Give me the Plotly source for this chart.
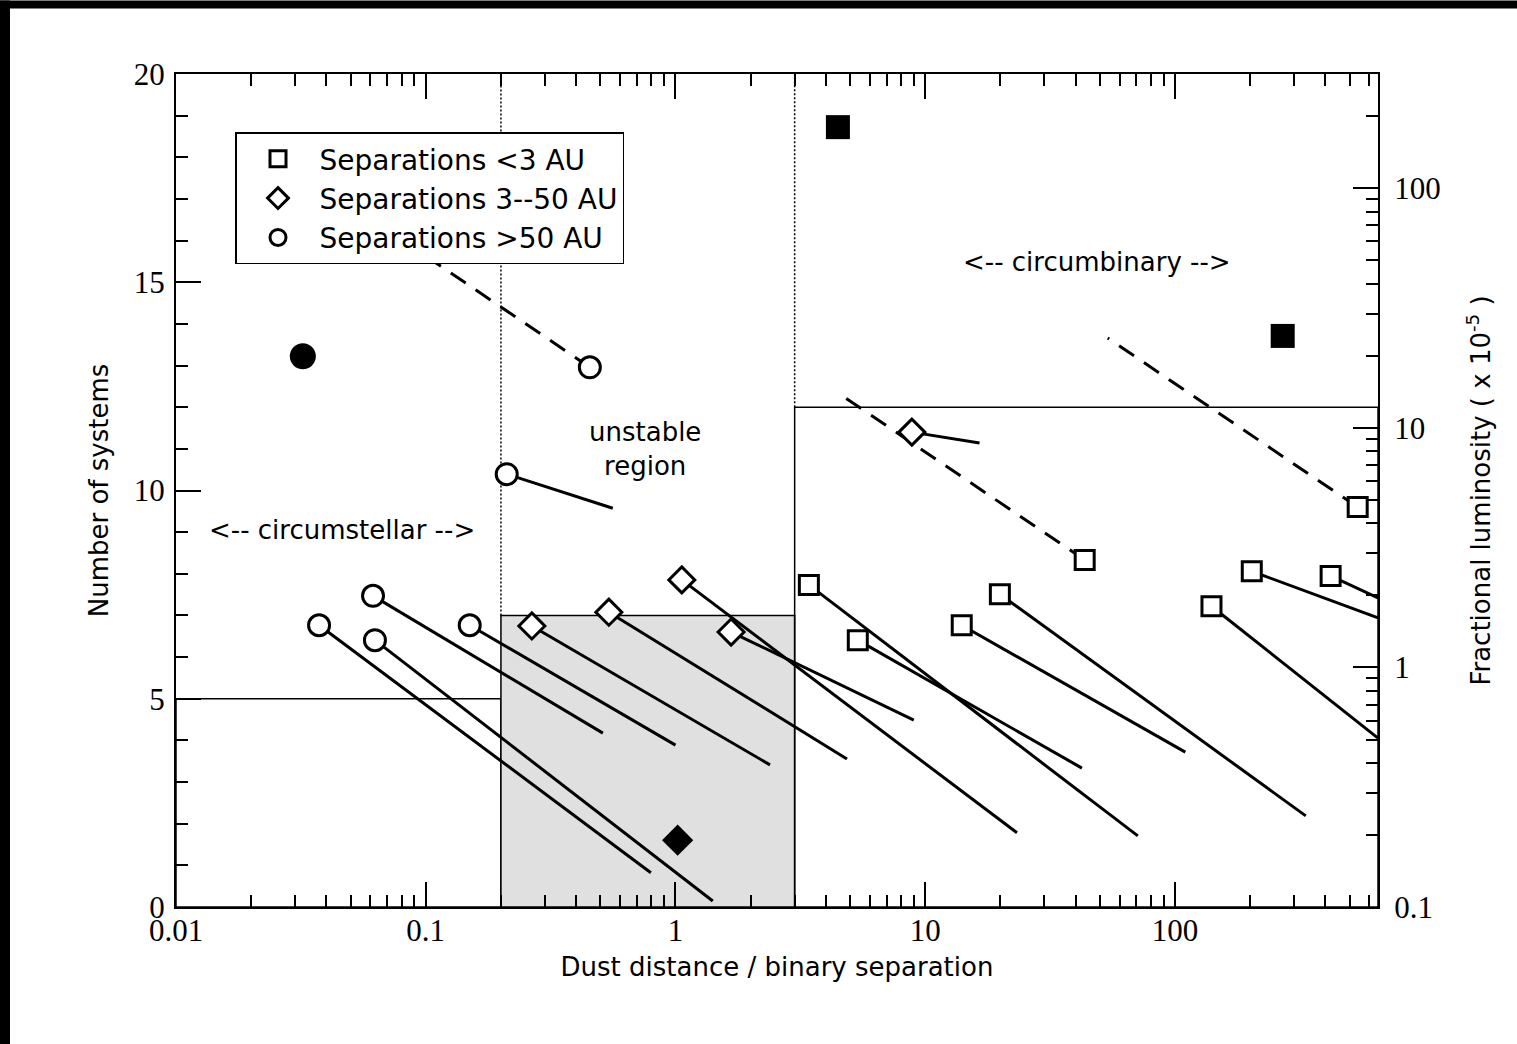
import math
import plotly.graph_objects as go

# ---- histogram: number of systems per dust-distance regime ----
bin_edges = [0.01, 0.2, 3, 650]
bin_counts = [5, 7, 12]
bin_fills = ["rgba(0,0,0,0)", "#e0e0e0", "rgba(0,0,0,0)"]

# ---- Separations < 3 AU (open squares) ----
sq_ratio = [3.42, 5.37, 14.0, 19.9, 140, 203, 420, 43.5, 539]
sq_lum = [2.21, 1.30, 1.50, 2.02, 1.80, 2.52, 2.41, 2.81, 4.67]
sq_tail_ratio = [71.0, 42.4, 110, 334, 650, 650, 650, 4.43, 53.8]
sq_tail_lum = [0.198, 0.380, 0.443, 0.240, 0.507, 1.61, 1.95, 14.1, 23.7]
sq_tail_dashed = [False, False, False, False, False, False, False, True, True]

# ---- Separations 3--50 AU (open diamonds) ----
di_ratio = [0.266, 0.541, 1.06, 1.67, 8.84]
di_lum = [1.49, 1.70, 2.32, 1.405, 9.60]
di_tail_ratio = [2.39, 4.86, 23.3, 9.0, 16.5]
di_tail_lum = [0.392, 0.415, 0.204, 0.603, 8.64]
di_tail_dashed = [False, False, False, False, False]

# ---- Separations > 50 AU (open circles) ----
ci_ratio = [0.0374, 0.0615, 0.0626, 0.150, 0.211, 0.454]
ci_lum = [1.50, 1.99, 1.30, 1.50, 6.41, 17.9]
ci_tail_ratio = [0.797, 0.512, 1.41, 1.00, 0.561, 0.0948]
ci_tail_lum = [0.139, 0.532, 0.106, 0.474, 4.62, 54.2]
ci_tail_dashed = [False, False, False, False, False, True]

# ---- filled symbols ----
fsq_ratio = [4.47, 270]
fsq_lum = [180, 24.2]
fdi_ratio = [1.02]
fdi_lum = [0.190]
fci_ratio = [0.0322]
fci_lum = [19.9]

SANS = "DejaVu Sans"
SERIF = "Liberation Serif"

fig = go.Figure()

# histogram bars drawn as closed outlines on the left (count) axis
for lo, hi, n, fc in zip(bin_edges[:-1], bin_edges[1:], bin_counts, bin_fills):
    fig.add_trace(go.Scatter(
        x=[lo, lo, hi, hi, lo], y=[0, n, n, 0, 0],
        mode="lines", fill="toself", fillcolor=fc,
        line=dict(color="black", width=1.5),
        showlegend=False, hoverinfo="skip", xaxis="x", yaxis="y"))

# dotted region boundaries above the bars
for i, edge in enumerate(bin_edges[1:-1]):
    top = max(bin_counts[i], bin_counts[i + 1])
    fig.add_trace(go.Scatter(
        x=[edge, edge], y=[top, 20], mode="lines",
        line=dict(color="black", width=1.5, dash="2px,2px"),
        showlegend=False, hoverinfo="skip", xaxis="x", yaxis="y"))


def tails(xs, ys, txs, tys, dashed, want):
    px, py = [], []
    for x0, y0, x1, y1, d in zip(xs, ys, txs, tys, dashed):
        if d == want:
            px += [x0, x1, None]
            py += [y0, y1, None]
    return px, py


solid_x, solid_y, dash_x, dash_y = [], [], [], []
for grp in [(sq_ratio, sq_lum, sq_tail_ratio, sq_tail_lum, sq_tail_dashed),
            (di_ratio, di_lum, di_tail_ratio, di_tail_lum, di_tail_dashed),
            (ci_ratio, ci_lum, ci_tail_ratio, ci_tail_lum, ci_tail_dashed)]:
    a, b = tails(*grp, want=False)
    solid_x += a
    solid_y += b
    a, b = tails(*grp, want=True)
    dash_x += a
    dash_y += b

fig.add_trace(go.Scatter(x=solid_x, y=solid_y, mode="lines",
                         line=dict(color="black", width=3),
                         showlegend=False, hoverinfo="skip", xaxis="x", yaxis="y2"))
fig.add_trace(go.Scatter(x=dash_x, y=dash_y, mode="lines",
                         line=dict(color="black", width=3, dash="18px,12px"),
                         showlegend=False, hoverinfo="skip", xaxis="x", yaxis="y2"))

# open symbols (legend entries)
open_marker = dict(color="white", line=dict(color="black", width=3))
fig.add_trace(go.Scatter(x=sq_ratio, y=sq_lum, mode="markers", name="Separations <3 AU",
                         legendgroup="a",
                         marker=dict(symbol="square", size=19, **open_marker),
                         xaxis="x", yaxis="y2"))
fig.add_trace(go.Scatter(x=di_ratio, y=di_lum, mode="markers", name="Separations 3--50 AU",
                         legendgroup="b",
                         marker=dict(symbol="diamond", size=20, **open_marker),
                         xaxis="x", yaxis="y2"))
fig.add_trace(go.Scatter(x=ci_ratio, y=ci_lum, mode="markers", name="Separations >50 AU",
                         legendgroup="c",
                         marker=dict(symbol="circle", size=21, **open_marker),
                         xaxis="x", yaxis="y2"))

# filled symbols
fig.add_trace(go.Scatter(x=fsq_ratio, y=fsq_lum, mode="markers",
                         marker=dict(symbol="square", size=24, color="black"),
                         showlegend=False, xaxis="x", yaxis="y2"))
fig.add_trace(go.Scatter(x=fdi_ratio, y=fdi_lum, mode="markers",
                         marker=dict(symbol="diamond", size=24, color="black"),
                         showlegend=False, xaxis="x", yaxis="y2"))
fig.add_trace(go.Scatter(x=fci_ratio, y=fci_lum, mode="markers",
                         marker=dict(symbol="circle", size=26, color="black"),
                         showlegend=False, xaxis="x", yaxis="y2"))

# region labels
fig.add_annotation(x=math.log10(0.0462), y=9.05, xref="x", yref="y",
                   text="<-- circumstellar -->", showarrow=False,
                   font=dict(family=SANS, size=26, color="black"))
fig.add_annotation(x=math.log10(0.754), y=11.0, xref="x", yref="y",
                   text="unstable<br>region", showarrow=False,
                   font=dict(family=SANS, size=26, color="black"))
fig.add_annotation(x=math.log10(48.6), y=15.48, xref="x", yref="y",
                   text="<-- circumbinary -->", showarrow=False,
                   font=dict(family=SANS, size=26, color="black"))

x_major = [0.01, 0.1, 1, 10, 100]
x_minor = [m * 10 ** e for e in range(-2, 3) for m in range(2, 10) if m * 10 ** e <= 650]
y2_major = [0.1, 1, 10, 100]
y2_minor = [m * 10 ** e for e in range(-1, 3) for m in range(2, 10) if m * 10 ** e <= 300]

tickfont = dict(family=SERIF, size=31, color="black")
titlefont = dict(family=SANS, size=26, color="black")
common = dict(showline=True, linecolor="black", linewidth=2, ticks="inside",
              ticklen=25, tickwidth=2, tickcolor="black", showgrid=False,
              zeroline=False, tickfont=tickfont)

fig.update_layout(
    width=1517, height=1044,
    margin=dict(l=176, r=139, t=74, b=137),
    paper_bgcolor="white", plot_bgcolor="white",
    xaxis=dict(type="log", range=[-2, math.log10(650)],
               tickvals=x_major, ticktext=["0.01", "0.1", "1", "10", "100"],
               minor=dict(ticks="inside", ticklen=12, tickwidth=2, tickcolor="black",
                          tickvals=x_minor, showgrid=False),
               mirror="ticks", ticklabelstandoff=-5,
               title=dict(text="Dust distance / binary separation", font=titlefont, standoff=11),
               **common),
    yaxis=dict(range=[0, 20], tickvals=[0, 5, 10, 15, 20],
               minor=dict(ticks="inside", ticklen=12, tickwidth=2, tickcolor="black",
                          dtick=1, showgrid=False),
               ticklabelstandoff=3,
               title=dict(text="Number of systems", font=titlefont, standoff=18),
               **common),
    yaxis2=dict(type="log", range=[-1, math.log10(300)], overlaying="y", side="right",
                tickvals=y2_major, ticktext=["0.1", "1", "10", "100"],
                minor=dict(ticks="inside", ticklen=12, tickwidth=2, tickcolor="black",
                           tickvals=y2_minor, showgrid=False),
                ticklabelstandoff=8,
                title=dict(text="Fractional luminosity ( x 10<sup>-5</sup> )",
                           font=titlefont, standoff=32),
                **common),
    legend=dict(x=(235 - 176) / 1202, y=(907 - 132) / 833.5, xanchor="left", yanchor="top",
                bgcolor="white", bordercolor="black", borderwidth=1.5,
                font=dict(family=SANS, size=28, color="black"),
                traceorder="grouped", tracegroupgap=0, itemwidth=73),
    showlegend=True,
)

# dark frame strips along the top and left edges of the page
fig.add_shape(type="rect", xref="paper", yref="paper",
              x0=-176 / 1202, x1=(1517 - 176) / 1202, y0=(907 - 8) / 833.5, y1=907 / 833.5,
              fillcolor="black", line=dict(width=0), layer="above")
fig.add_shape(type="rect", xref="paper", yref="paper",
              x0=-176 / 1202, x1=(10 - 176) / 1202, y0=(907 - 1044) / 833.5, y1=907 / 833.5,
              fillcolor="black", line=dict(width=0), layer="above")

fig.write_html("out.html")
